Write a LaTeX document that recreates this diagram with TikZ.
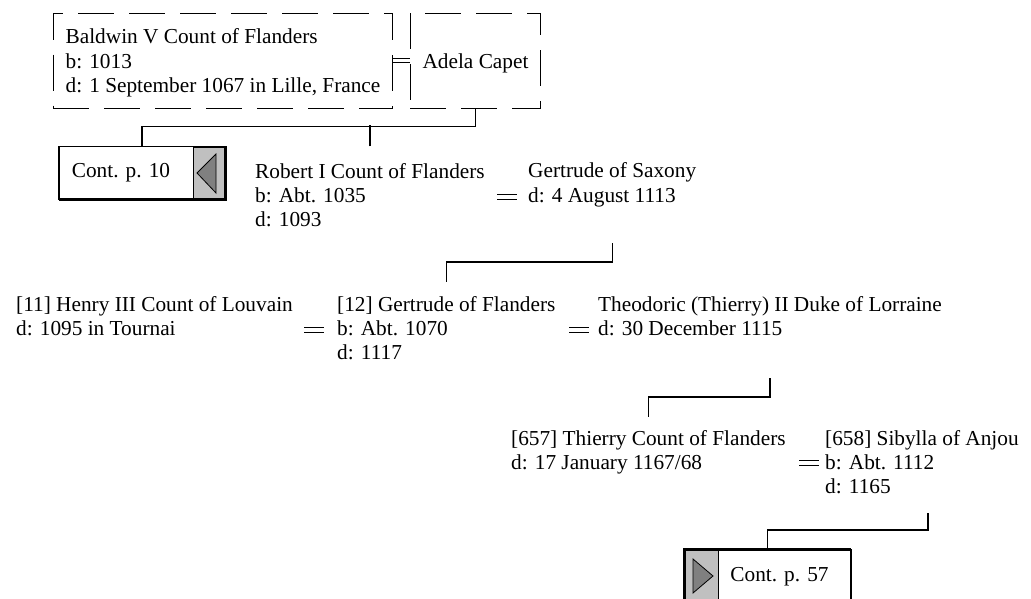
\documentclass[tikz,border=0pt]{standalone}
\usepackage{fontspec}
\setmainfont{Liberation Serif}
\newcommand\pfont{\fontsize{21.3}{24.4}\selectfont}
\definecolor{panelgray}{RGB}{192,192,192}
\definecolor{trigray}{RGB}{128,128,128}
\tikzset{
  person/.style={anchor=base west, align=left, inner sep=0pt, font=\pfont},
  dbox/.style={draw, dash pattern=on 36pt off 15pt, line width=0.9pt, align=left,
    font=\pfont, minimum height=95pt, inner xsep=12.5pt, inner ysep=0pt},
  conn/.style={line width=1.4pt},
  contbox/.style={draw, line width=1pt, minimum width=166pt, minimum height=52pt, inner sep=0pt},
  conttext/.style={font=\pfont, inner sep=0pt},
  marr/.pic={\draw[line width=1.3pt] (-10,-2.8) -- (10,-2.8) (-10,2.8) -- (10,2.8);}
}
\begin{document}
\begin{tikzpicture}[x=1pt,y=-1pt]
\useasboundingbox (0,0) rectangle (1031,599);

% generation 1
\node[dbox] (baldwin) at (223,60.5) {\rule{0pt}{20pt}Baldwin V Count of Flanders\\b: 1013\\d: 1 September 1067 in Lille, France};
\node[dbox, minimum width=129pt, align=center] (adela) at (475.5,60.5) {\rule{0pt}{20pt}Adela Capet};
\draw[line width=0.9pt] ([yshift=2.2pt]baldwin.east) -- ([yshift=2.2pt]adela.west)
                        ([yshift=-2.2pt]baldwin.east) -- ([yshift=-2.2pt]adela.west);

% continuation box p. 10
\node[contbox] (cont10) at (142,173) {};
\filldraw[fill=panelgray, line width=0.8pt] (193,147) rectangle (225,199);
\filldraw[fill=trigray, line width=0.8pt] (197,173) -- (216,154) -- (216,193) -- cycle;
\draw[line width=1pt] (cont10.north west) rectangle (cont10.south east);
\draw[line width=2.2pt] (cont10.north east) -- (cont10.south east) -- (cont10.south west);
\node[conttext] (c10t) at (121,173) {Cont. p. 10};

% generation 2 (anchor = baseline of last line)
\node[person] (robert) at (255,226.8) {Robert I Count of Flanders\\b: Abt. 1035\\d: 1093};
\node[person] (saxony) at (528,202.4) {Gertrude of Saxony\\d: 4 August 1113};
\pic at (507,197) {marr};

% generation 3
\node[person] (henry) at (16,335.4) {[11] Henry III Count of Louvain\\d: 1095 in Tournai};
\node[person] (gflanders) at (337,359.8) {[12] Gertrude of Flanders\\b: Abt. 1070\\d: 1117};
\node[person] (theo) at (598,335.4) {Theodoric (Thierry) II Duke of Lorraine\\d: 30 December 1115};
\pic at (314,330) {marr};
\pic at (579,330) {marr};

% generation 4
\node[person] (thierry) at (511,469.4) {[657] Thierry Count of Flanders\\d: 17 January 1167/68};
\node[person] (sibylla) at (825,493.8) {[658] Sibylla of Anjou\\b: Abt. 1112\\d: 1165};
\pic at (809,463) {marr};

% continuation box p. 57
\node[contbox] (cont57) at (767.5,576) {};
\filldraw[fill=panelgray, line width=0.8pt] (685,550) rectangle (718,602);
\filldraw[fill=trigray, line width=0.8pt] (693,559) -- (713,576) -- (693,593) -- cycle;
\draw[line width=1pt] (cont57.north west) rectangle (cont57.south east);
\draw[line width=2.2pt] (cont57.south west) -- (cont57.north west) -- (cont57.north east);
\node[conttext] (c57t) at (779.5,577) {Cont. p. 57};

% row levels for connectors
\coordinate (r2bot) at (0,243);
\coordinate (r3top) at (0,282);
\coordinate (r3bot) at (0,378);
\coordinate (r4top) at (0,417);
\coordinate (r4bot) at (0,513);

% connectors
\draw[conn] (adela.south) -- ++(0,18) -| (cont10.north);
\draw[conn] (robert.north |- cont10.north) -- ++(0,-21);
\draw[conn] (saxony.north |- r2bot) -- ++(0,19) -| (gflanders.north |- r3top);
\draw[conn] (theo.north |- r3bot) -- ++(0,19) -| (thierry.north |- r4top);
\draw[conn] ([xshift=6pt]sibylla.north |- r4bot) -- ++(0,17) -| (cont57.north);
\end{tikzpicture}
\end{document}
